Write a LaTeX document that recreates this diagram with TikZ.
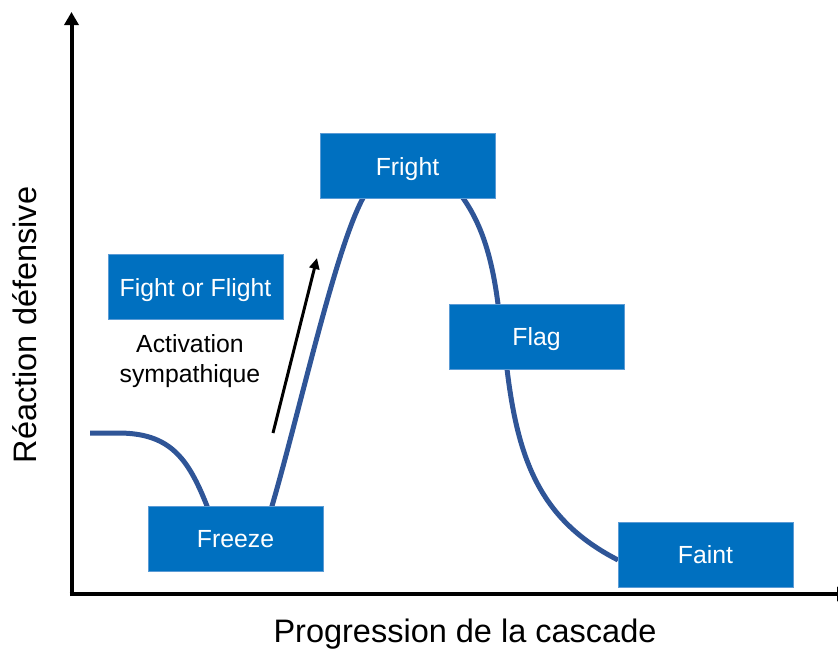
\documentclass[tikz,border=0pt]{standalone}
\usepackage{fontspec}
\setmainfont{Liberation Sans}
\usetikzlibrary{arrows.meta}
\definecolor{boxblue}{RGB}{0,112,192}
\definecolor{boxedge}{RGB}{91,155,213}
\definecolor{curveblue}{RGB}{47,85,151}
\tikzset{
  stagebox/.style={fill=boxblue, draw=boxedge, line width=0.6pt,
    minimum width=175pt, minimum height=65pt, inner sep=0pt,
    text=white, font=\fontsize{24.8}{29}\selectfont,
    text height=18pt, text depth=0pt},
  axisline/.style={line width=4pt, -{Triangle[length=13pt,width=14pt]}},
  curveline/.style={curveblue, line width=5pt},
  actarrow/.style={line width=3pt, -{Triangle[length=11pt,width=10pt]}},
  axislabel/.style={font=\fontsize{32.5}{39}\selectfont, inner sep=0pt},
}
\begin{document}
\begin{tikzpicture}[x=1pt,y=-1pt]
\useasboundingbox (0,0) rectangle (838,651);
% axes
\coordinate (O) at (71.5,594);
\coordinate (ytop) at (71.5,12);
\coordinate (xend) at (850,594);
\draw[axisline] (71.5,596) -- (ytop);
\draw[axisline] (69.5,594) -- (xend);
% curve
\draw[curveline] (90,433) -- (118,433)
  .. controls (170,433) and (188,458) .. (207,506)
  .. controls (222,550) and (257,550) .. (272,506)
  .. controls (300,410) and (335,250) .. (363,198)
  .. controls (385,155) and (440,155) .. (463,198)
  .. controls (482,225) and (492,258) .. (498,304)
  -- (507,369)
  .. controls (518,460) and (540,520) .. (618,560);
% stage boxes
\node[stagebox] (fright) at (407.5,166) {Fright};
\node[stagebox] (fof) at (195.5,287) {Fight or Flight};
\node[stagebox] (flag) at (536.5,336.5) {Flag};
\node[stagebox] (faint) at (705.5,554.5) {Faint};
\node[stagebox] (freeze) at (235.5,538.5) {Freeze};
% activation
\node[align=center, inner sep=0pt, font=\fontsize{24.8}{29.5}\selectfont] (act) at (190,361) {Activation\\sympathique};
\coordinate (a1) at (273,433);
\coordinate (a2) at (317,258);
\draw[actarrow] (a1) -- (a2);
% axis labels
\node[axislabel, anchor=base] (xlab) at (465,642) {Progression de la cascade};
\node[axislabel, anchor=base, rotate=90] (ylab) at (36,325) {Réaction défensive};
\end{tikzpicture}
\end{document}
